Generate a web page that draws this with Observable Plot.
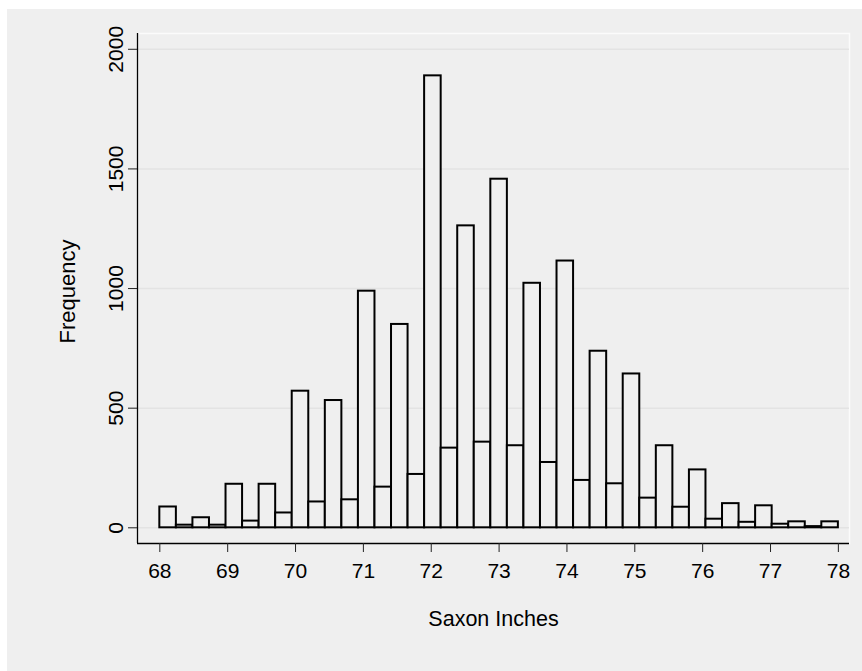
<!DOCTYPE html>
<html><head><meta charset="utf-8">
<script src="https://cdn.jsdelivr.net/npm/d3@7"></script>
<script src="https://cdn.jsdelivr.net/npm/@observablehq/plot@0.6"></script>
<style>
html,body{margin:0;padding:0;background:#ffffff;}
#chart{position:absolute;left:7px;top:9px;width:855px;height:662px;background:#efefef;}
#chart svg{display:block;}
</style></head><body><div id="chart"></div>
<script>
// Histogram: 41 equal bins from 68 to 78 (Saxon inches)
const xMin = 68, xMax = 78, nBins = 41;
const counts = [87, 11, 42, 11, 182, 28, 182, 62, 571, 108, 532, 117, 989, 170, 850, 223,
                1889, 333, 1262, 358, 1457, 343, 1022, 273, 1115, 198, 738, 184, 643, 124,
                343, 86, 242, 36, 101, 23, 92, 15, 25, 5, 25];
const xTicks = [68, 69, 70, 71, 72, 73, 74, 75, 76, 77, 78];
const yTicks = [0, 500, 1000, 1500, 2000];
const xLabel = "Saxon Inches";
const yLabel = "Frequency";

const binW = (xMax - xMin) / nBins;
const bins = counts.map((c, i) => ({x1: xMin + i * binW, x2: xMin + (i + 1) * binW, count: c}));

const xDom = [67.671, 78.164];
const yDom = [-65.6, 2066];
const bg = "#efefef";
const font = "'Liberation Sans', Arial, Helvetica, sans-serif";

const chart = Plot.plot({
  width: 855, height: 662,
  marginLeft: 130, marginTop: 24, marginRight: 13, marginBottom: 128,
  style: {background: "transparent", fontFamily: font, fontSize: "21px", color: "#000"},
  x: {domain: xDom},
  y: {domain: yDom},
  marks: [
    Plot.frame({stroke: "#fbfbfb", strokeWidth: 1.5}),
    Plot.gridY(yTicks, {stroke: "#e3e3e3", strokeOpacity: 1, strokeWidth: 1.5}),
    Plot.rectY(bins, {x1: "x1", x2: "x2", y: "count", fill: bg, stroke: "#000", strokeWidth: 2}),
    Plot.ruleY([yDom[0]], {stroke: "#000", strokeWidth: 1.3}),
    Plot.ruleX([xDom[0]], {stroke: "#000", strokeWidth: 1.3}),
    Plot.axisX(xTicks, {tickSize: 9, tickPadding: 11, label: null, fontSize: 21, stroke: "#222", tickFormat: d => String(d)}),
    Plot.axisY(yTicks, {tickSize: 9, tickPadding: 6, tickRotate: -90, label: null, fontSize: 21, stroke: "#222", tickFormat: d => String(d)}),
    Plot.text([yLabel], {frameAnchor: "left", textAnchor: "middle", dx: -63, dy: 3, rotate: -90, lineAnchor: "bottom", fontSize: 22, fill: "#000"}),
    Plot.text([xLabel], {frameAnchor: "bottom", textAnchor: "middle", dy: 82, lineAnchor: "bottom", fontSize: 21.5, fill: "#000"})
  ]
});
document.getElementById("chart").appendChild(chart);
</script>
</body></html>
